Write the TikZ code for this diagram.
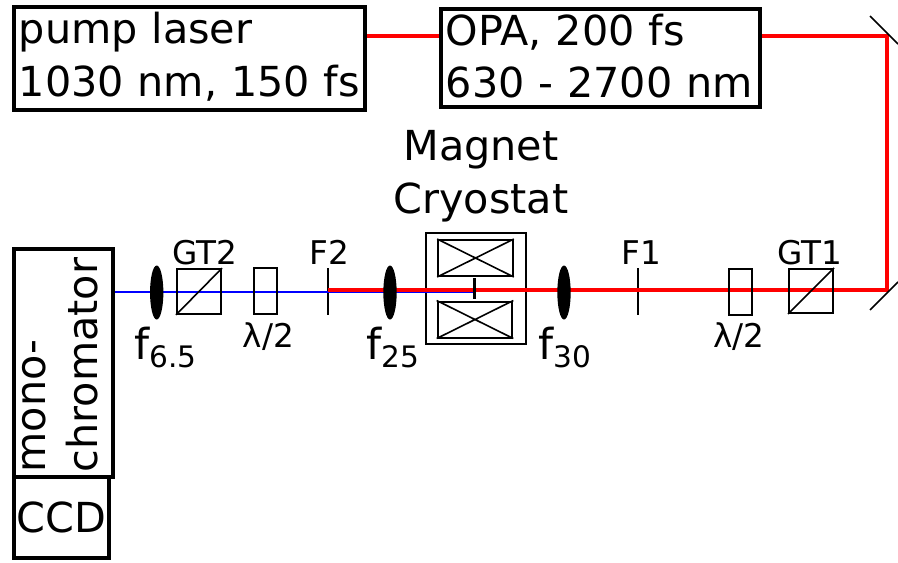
\documentclass[tikz,border=0pt]{standalone}
\usepackage{fontspec}
\setmainfont{DejaVu Sans}
\usetikzlibrary{backgrounds,shapes.geometric}
\newcommand{\bigfont}{\fontsize{31}{39.5}\selectfont}
\newcommand{\monofont}{\fontsize{31}{39}\selectfont}
\newcommand{\midfont}{\fontsize{24.5}{30}\selectfont}
\newcommand{\subfont}{\fontsize{22.2}{26}\selectfont}
\newcommand{\lensfont}{\fontsize{32}{38}\selectfont}
\newcommand{\padbelow}[1]{\par\kern#1}
\tikzset{
  x=0.75pt,y=-0.75pt,
  heavybox/.style={draw=black,line width=3pt,inner sep=0pt,font=\bigfont,align=left},
  thinbox/.style={draw=black,line width=1.5pt,inner sep=0pt},
  thinner/.style={draw=black,line width=1.2pt},
  redbeam/.style={draw=red,line width=3pt},
  bluebeam/.style={draw=blue,line width=1.1pt},
  lens/.style={ellipse,fill=black,inner sep=0pt,minimum width=10pt,minimum height=40.5pt},
  midlabel/.style={font=\midfont,inner sep=0pt,anchor=base},
  biglabel/.style={font=\bigfont,inner sep=0pt,anchor=base},
  lenslabel/.style={font=\lensfont,inner sep=0pt,anchor=base west},
}
\begin{document}
\begin{tikzpicture}
\useasboundingbox (0,0) rectangle (898,562);
% boxes with text
\node[heavybox,minimum width=263pt,minimum height=77pt,text width=256pt] (pump) at (189.5,58.5) {pump laser\\1030 nm, 150 fs\padbelow{3pt}};
\node[heavybox,minimum width=239pt,minimum height=73.5pt,text width=232pt] (opa) at (600.5,58) {OPA, 200 fs\\630 - 2700 nm\padbelow{3pt}};
\node[heavybox,font=\monofont,rotate=90,minimum width=171pt,minimum height=74pt,text width=164pt] (mono) at (63.5,363) {mono-\\chromator\padbelow{5.5pt}};
\node[heavybox,minimum width=71pt,minimum height=61pt] (ccd) at (61.5,517.5) {CCD};
% magnet
\begin{scope}[on background layer]
\node[thinbox,minimum width=75pt,minimum height=83pt] (cryo) at (475.7,288.5) {};
\end{scope}
\node[thinbox,minimum width=56pt,minimum height=27pt] (coilA) at (475.5,258) {};
\node[thinbox,minimum width=56pt,minimum height=27pt] (coilB) at (475,319.5) {};
\draw[thinner] (coilA.north west) -- (coilA.south east) (coilA.north east) -- (coilA.south west);
\draw[thinner] (coilB.north west) -- (coilB.south east) (coilB.north east) -- (coilB.south west);
\coordinate (sampleT) at (474.5,278);
\coordinate (sampleB) at (474.5,299);
% optics
\node[lens] (f65) at (156.7,292.5) {};
\node[lens] (f25) at (390,292.5) {};
\node[lens] (f30) at (564,292.5) {};
\node[thinbox,minimum width=33pt,minimum height=33.5pt] (gt2) at (199,291.5) {};
\node[thinbox,minimum width=33pt,minimum height=33pt] (gt1) at (811,291) {};
\draw[thinner] (gt2.south west) -- (gt2.north east);
\draw[thinner] (gt1.south west) -- (gt1.north east);
\node[thinbox,minimum width=17pt,minimum height=34.5pt] (hwB) at (265.5,291) {};
\node[thinbox,minimum width=17pt,minimum height=34.5pt] (hwA) at (740.5,292) {};
\coordinate (F2T) at (328,268); \coordinate (F2B) at (328,315);
\coordinate (F1T) at (638,268); \coordinate (F1B) at (638,315);
% mirrors
\coordinate (mTa) at (870,16); \coordinate (mTb) at (898,44);
\coordinate (mBa) at (870,310); \coordinate (mBb) at (898,282);
\draw[thinner] (mTa) -- (mTb);
\draw[thinner] (mBa) -- (mBb);
% beams
\coordinate (turnT) at (887,36);
\coordinate (turnB) at (887,289.7);
\coordinate (redEnd) at (328,289.7);
\coordinate (blueEnd) at (473.5,291.8);
\begin{scope}[on background layer]
\draw[thinner] (F2T) -- (F2B);
\draw[thinner] (F1T) -- (F1B);
\draw[bluebeam] (mono.south |- blueEnd) -- (blueEnd);
\draw[redbeam,line join=miter] (opa.east |- turnT) -- (turnT) -- (turnB) -- (redEnd);
\draw[redbeam] (pump.east |- turnT) -- (opa.west |- turnT);
\end{scope}
\draw[black,line width=2pt] (sampleT) -- (sampleB);
% labels
\node[biglabel] (magA) at (481,160) {Magnet};
\node[biglabel] (magB) at (481,213.5) {Cryostat};
\node[midlabel] (lGT2) at (204.5,264) {GT2};
\node[midlabel] (lF2) at (329.5,264) {F2};
\node[midlabel] (lF1) at (641,264) {F1};
\node[midlabel] (lGT1) at (810,264) {GT1};
\node[midlabel] (lHWB) at (268.5,347) {λ/2};
\node[midlabel] (lHWA) at (739,347) {λ/2};
\node[lenslabel] (lf65) at (134,359) {f\raisebox{-6.5pt}{\subfont 6.5}};
\node[lenslabel] (lf25) at (366,359) {f\raisebox{-6.5pt}{\subfont 25}};
\node[lenslabel] (lf30) at (538,359) {f\raisebox{-6.5pt}{\subfont 30}};
\end{tikzpicture}
\end{document}
